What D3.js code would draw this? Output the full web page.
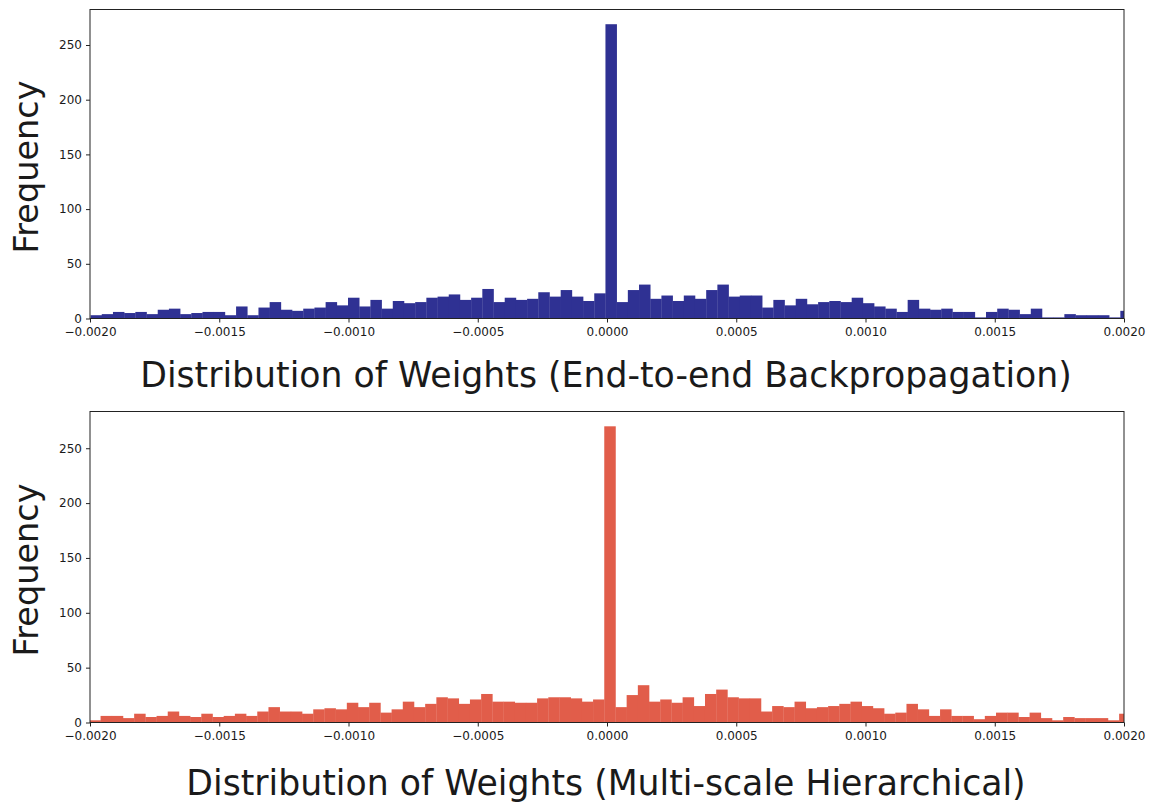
<!DOCTYPE html>
<html>
<head>
<meta charset="utf-8">
<script src="https://cdn.jsdelivr.net/npm/d3@7"></script>
<style>
  html, body { margin: 0; padding: 0; background: #ffffff; }
  svg { display: block; }
  text { font-family: "DejaVu Sans", sans-serif; fill: #1a1a1a; }
</style>
</head>
<body>
<svg id="chart" width="1151" height="805"></svg>
<script>
// Histogram bin counts, one per bin, from the leftmost bin (k = -46) to the rightmost (k = 46).
const backpropCounts = [
  3, 4, 6, 5, 6, 4, 8, 9, 4, 5, 6, 6, 3, 11, 3, 10, 15, 8, 7, 9, 10, 15, 12, 19, 11, 17, 9, 16, 14, 15, 19,
  20, 22, 17, 19, 27, 15, 19, 17, 18, 24, 20, 26, 20, 16, 23,
  269,
  15, 26, 31, 18, 21, 16, 21, 18, 26, 31, 20, 21, 21, 10,
  17, 12, 18, 13, 15, 16, 15, 19, 14, 11, 9, 6, 17, 9, 8, 9, 6, 6, 1, 6, 9, 8, 4, 9, 1, 1, 4, 3, 3, 3, 1, 7
];
const hierarchicalCounts = [
  2, 6, 6, 4, 8, 5, 6, 10, 6, 5, 8, 5, 6, 8, 6, 10, 14, 10, 10, 8, 12, 13, 12, 18, 14, 18, 9, 12, 19, 14, 17,
  23, 22, 17, 21, 26, 19, 19, 18, 18, 22, 23, 23, 22, 19, 21,
  270,
  14, 25, 34, 19, 21, 18, 23, 15, 26, 30, 23, 22, 22, 10,
  15, 14, 19, 13, 14, 15, 17, 19, 15, 13, 8, 9, 17, 12, 6, 12, 6, 6, 3, 6, 9, 9, 5, 9, 4, 2, 5, 4, 4, 4, 2, 8
];

// Bin geometry: bin k spans [origin + k*width, origin + (k+1)*width]
const binWidth = 0.0000433;
const firstBinIndex = -46;
const backpropOrigin = -0.000006;
const hierarchicalOrigin = -0.0000106;

const xTicks = [-0.002, -0.0015, -0.001, -0.0005, 0, 0.0005, 0.001, 0.0015, 0.002];
const yTicks = [0, 50, 100, 150, 200, 250];
const xDomain = [-0.002, 0.002];

const panels = [
  { id: "bp", counts: backpropCounts, origin: backpropOrigin, color: "#2f3193",
    title: "Distribution of Weights (End-to-end Backpropagation)",
    top: 9.5, bottom: 318.5, titleY: 387 },
  { id: "ms", counts: hierarchicalCounts, origin: hierarchicalOrigin, color: "#e15d4a",
    title: "Distribution of Weights (Multi-scale Hierarchical)",
    top: 411.5, bottom: 722.5, titleY: 795 }
];

const left = 90, right = 1124;
const svg = d3.select("#chart");
const fmt = d => (d < 0 ? "\u2212" : "") + Math.abs(d).toFixed(4);

panels.forEach(p => {
  const x = d3.scaleLinear().domain(xDomain).range([left, right]);
  const yMax = d3.max(p.counts) * 1.05;
  const y = d3.scaleLinear().domain([0, yMax]).range([p.bottom, p.top]);

  svg.append("clipPath").attr("id", "clip-" + p.id)
    .append("rect")
    .attr("x", left).attr("y", p.top)
    .attr("width", right - left).attr("height", p.bottom - p.top);

  const bins = p.counts.map((c, i) => {
    const k = firstBinIndex + i;
    return { x0: p.origin + k * binWidth, x1: p.origin + (k + 1) * binWidth, count: c };
  });

  svg.append("g").attr("clip-path", `url(#clip-${p.id})`)
    .selectAll("rect").data(bins).join("rect")
    .attr("x", d => x(d.x0))
    .attr("width", d => x(d.x1) - x(d.x0) + 0.3)
    .attr("y", d => y(d.count))
    .attr("height", d => y(0) - y(d.count))
    .attr("fill", p.color);

  // frame
  svg.append("rect")
    .attr("x", left).attr("y", p.top)
    .attr("width", right - left).attr("height", p.bottom - p.top)
    .attr("fill", "none").attr("stroke", "#222").attr("stroke-width", 1);

  const xAxis = svg.append("g")
    .attr("transform", `translate(0,${p.bottom})`)
    .call(d3.axisBottom(x).tickValues(xTicks).tickFormat(fmt).tickSize(4).tickPadding(5));
  const yAxis = svg.append("g")
    .attr("transform", `translate(${left},0)`)
    .call(d3.axisLeft(y).tickValues(yTicks).tickSize(4).tickPadding(4));

  [xAxis, yAxis].forEach(a => {
    a.select(".domain").remove();
    a.selectAll(".tick line").attr("stroke", "#222");
    a.selectAll(".tick text")
      .style("font-family", "'DejaVu Sans', sans-serif")
      .style("font-size", "12px").attr("fill", "#1a1a1a");
  });

  svg.append("text")
    .attr("x", 606).attr("y", p.titleY)
    .attr("text-anchor", "middle")
    .style("font-size", "34.7px")
    .text(p.title);

  svg.append("text")
    .attr("transform", `translate(38,${(p.top + p.bottom) / 2 + 3}) rotate(-90)`)
    .attr("text-anchor", "middle")
    .style("font-size", "33.5px")
    .text("Frequency");
});
</script>
</body>
</html>
